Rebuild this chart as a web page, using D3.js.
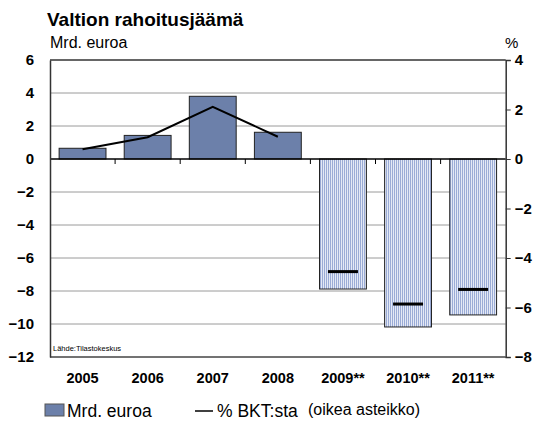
<!DOCTYPE html>
<html>
  <head>
    <script src="https://d3js.org/d3.v7.min.js"></script>
    <style>
      body { margin: 0; background: #fff; }
      svg { font-family: "Liberation Sans", Arial, sans-serif; }
      .tick-label { font-size: 15px; font-weight: bold; fill: #000; }
      .x-label { font-size: 14.5px; font-weight: bold; fill: #000; }
    </style>
  </head>
  <body>
    <div id="chart"></div>
    <script>
      // data
      const years = ["2005", "2006", "2007", "2008", "2009**", "2010**", "2011**"];
      const mrd = [0.65, 1.43, 3.8, 1.62, -7.88, -10.18, -9.45];
      const bkt = [0.39, 0.88, 2.11, 0.9, -4.55, -5.86, -5.27];
      const forecast = [false, false, false, false, true, true, true];
      const leftTicks = [6, 4, 2, 0, -2, -4, -6, -8, -10, -12];
      const rightTicks = [4, 2, 0, -2, -4, -6, -8];

      const W = 535, H = 421;
      const plotLeft = 50, plotRight = 505.7, plotTop = 60, plotBottom = 357;

      const svg = d3.select("#chart").append("svg")
        .attr("width", W).attr("height", H);

      // stripe pattern for forecast bars
      const defs = svg.append("defs");
      const pat = defs.append("pattern")
        .attr("id", "stripes")
        .attr("patternUnits", "userSpaceOnUse")
        .attr("width", 2).attr("height", 4);
      pat.append("rect").attr("width", 2).attr("height", 4).attr("fill", "#e4e9f5");
      pat.append("rect").attr("width", 1).attr("height", 4).attr("fill", "#9aabd6");

      const x = d3.scaleBand().domain(years).range([plotLeft, plotRight])
        .paddingInner(0.28).paddingOuter(0.14);
      const y = d3.scaleLinear().domain([-12, 6]).range([plotBottom, plotTop]);
      const y2 = d3.scaleLinear().domain([-8, 4]).range([plotBottom, plotTop]);

      // gridlines
      svg.append("g").selectAll("line")
        .data(leftTicks.filter(d => d !== 0 && d !== 6))
        .join("line")
        .attr("x1", plotLeft).attr("x2", plotRight)
        .attr("y1", d => y(d)).attr("y2", d => y(d))
        .attr("stroke", "#9a9a9a").attr("stroke-width", 1);

      // bars
      svg.append("g").selectAll("rect")
        .data(years)
        .join("rect")
        .attr("x", d => x(d))
        .attr("width", x.bandwidth())
        .attr("y", (d, i) => y(Math.max(0, mrd[i])))
        .attr("height", (d, i) => Math.abs(y(mrd[i]) - y(0)))
        .attr("fill", (d, i) => forecast[i] ? "url(#stripes)" : "#6c80aa")
        .attr("stroke", "#222").attr("stroke-width", 1);

      // top border, bottom line
      svg.append("line").attr("x1", plotLeft).attr("x2", plotRight)
        .attr("y1", y(6)).attr("y2", y(6)).attr("stroke", "#333").attr("stroke-width", 1.5);
      svg.append("line").attr("x1", plotLeft).attr("x2", plotRight)
        .attr("y1", y(-12)).attr("y2", y(-12)).attr("stroke", "#555").attr("stroke-width", 1.5);

      // zero line + category ticks
      svg.append("line").attr("x1", plotLeft).attr("x2", plotRight)
        .attr("y1", y(0)).attr("y2", y(0)).attr("stroke", "#000").attr("stroke-width", 1.5);
      const step = x.step();
      svg.append("g").selectAll("line")
        .data(years.slice(1))
        .join("line")
        .attr("x1", d => x(d) - step * 0.14).attr("x2", d => x(d) - step * 0.14)
        .attr("y1", y(0)).attr("y2", y(0) + 5)
        .attr("stroke", "#000").attr("stroke-width", 1);

      // left axis
      const gl = svg.append("g").attr("transform", `translate(${plotLeft},0)`)
        .call(d3.axisLeft(y).tickValues(leftTicks).tickSize(0).tickPadding(16));
      gl.select(".domain").attr("stroke", "#333").attr("stroke-width", 1.5);
      gl.selectAll("text").attr("class", "tick-label");
      gl.attr("font-family", null).attr("font-size", null);

      // right axis
      const gr = svg.append("g").attr("transform", `translate(${plotRight},0)`)
        .call(d3.axisRight(y2).tickValues(rightTicks).tickSize(5).tickPadding(4));
      gr.select(".domain").attr("stroke", "#333").attr("stroke-width", 1.5);
      gr.selectAll(".tick line").attr("stroke", "#333");
      gr.selectAll("text").attr("class", "tick-label");
      gr.attr("font-family", null).attr("font-size", null);

      // x labels
      svg.append("g").selectAll("text")
        .data(years)
        .join("text")
        .attr("class", "x-label")
        .attr("x", d => x(d) + x.bandwidth() / 2)
        .attr("y", 383)
        .attr("text-anchor", "middle")
        .text(d => d);

      // % BKT line (actual years)
      const cx = d => x(d) + x.bandwidth() / 2;
      const actual = years.map((d, i) => ({ d, v: bkt[i], f: forecast[i] })).filter(p => !p.f);
      svg.append("path")
        .datum(actual)
        .attr("fill", "none").attr("stroke", "#000").attr("stroke-width", 2)
        .attr("d", d3.line().x(p => cx(p.d)).y(p => y2(p.v)));

      // forecast markers
      svg.append("g").selectAll("line")
        .data(years.map((d, i) => ({ d, v: bkt[i], f: forecast[i] })).filter(p => p.f))
        .join("line")
        .attr("x1", p => cx(p.d) - 15).attr("x2", p => cx(p.d) + 15)
        .attr("y1", p => y2(p.v)).attr("y2", p => y2(p.v))
        .attr("stroke", "#000").attr("stroke-width", 3);

      // titles
      svg.append("text").attr("x", 47).attr("y", 26)
        .attr("font-size", "19px").attr("font-weight", "bold")
        .text("Valtion rahoitusjäämä");
      svg.append("text").attr("x", 50).attr("y", 48)
        .attr("font-size", "16px").text("Mrd. euroa");
      svg.append("text").attr("x", 505).attr("y", 48)
        .attr("font-size", "15px").text("%");
      svg.append("text").attr("x", 53).attr("y", 351)
        .attr("font-size", "7.5px").text("Lähde:Tilastokeskus");

      // legend
      svg.append("rect").attr("x", 45).attr("y", 404).attr("width", 19).attr("height", 12)
        .attr("fill", "#6c80aa").attr("stroke", "#555").attr("stroke-width", 1);
      svg.append("text").attr("x", 67).attr("y", 417)
        .attr("font-size", "17.5px").text("Mrd. euroa");
      svg.append("line").attr("x1", 195).attr("x2", 213)
        .attr("y1", 411).attr("y2", 411).attr("stroke", "#000").attr("stroke-width", 1.5);
      svg.append("text").attr("x", 217).attr("y", 417)
        .attr("font-size", "17.5px").text("% BKT:sta");
      svg.append("text").attr("x", 308).attr("y", 415)
        .attr("font-size", "16px").text("(oikea asteikko)");
    </script>
  </body>
</html>
